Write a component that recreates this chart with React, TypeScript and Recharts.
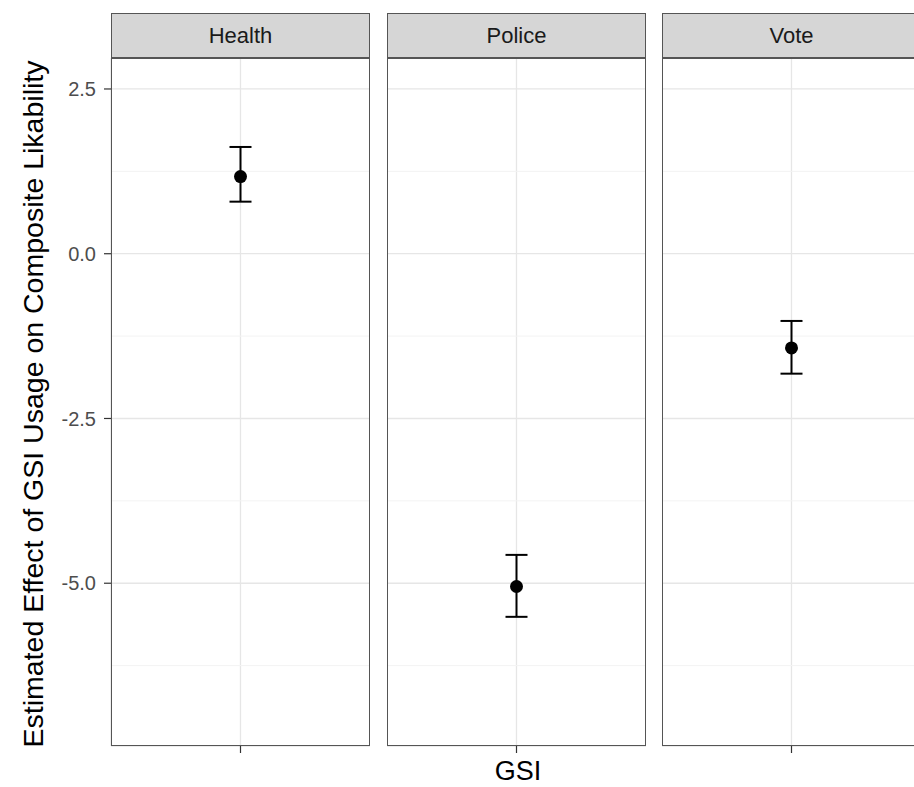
import React from 'react';
import {
  ScatterChart,
  Scatter,
  XAxis,
  YAxis,
  CartesianGrid,
  ErrorBar,
  ReferenceLine
} from 'recharts';

const panels = ['Health', 'Police', 'Vote'];
const estimates = [1.17, -5.05, -1.43];
const lowerBounds = [0.79, -5.51, -1.82];
const upperBounds = [1.62, -4.57, -1.02];

const yTicks = [2.5, 0, -2.5, -5];
const yMinorLines = [1.25, -1.25, -3.75, -6.25];
const yDomain: [number, number] = [-7.47, 2.97];

const FONT = '"Liberation Sans", Arial, Helvetica, sans-serif';
const PANEL_W = 259;
const PLOT_TOP = 58;
const PLOT_H = 688;
const AXIS_W = 111;
const panelLefts = [111, 387, 662];

const Dot = (props: any) => <circle cx={props.cx} cy={props.cy} r={6.5} fill="#000" />;

interface PanelProps {
  index: number;
}

const Panel: React.FC<PanelProps> = ({ index }) => {
  const first = index === 0;
  const data = [
    {
      x: 1,
      y: estimates[index],
      err: [estimates[index] - lowerBounds[index], upperBounds[index] - estimates[index]]
    }
  ];
  const left = first ? 0 : panelLefts[index];
  const width = first ? AXIS_W + PANEL_W : PANEL_W;

  return (
    <div style={{ position: 'absolute', left, top: PLOT_TOP }}>
      <ScatterChart width={width} height={PLOT_H + 10} margin={{ top: 0, right: 0, bottom: 0, left: 0 }}>
        <XAxis
          type="number"
          dataKey="x"
          domain={[0, 2]}
          ticks={[1]}
          height={10}
          axisLine={false}
          tickSize={7}
          tickLine={{ stroke: '#333', strokeWidth: 1.2 }}
          tickFormatter={() => ''}
        />
        <YAxis
          type="number"
          dataKey="y"
          domain={yDomain}
          ticks={yTicks}
          hide={!first}
          width={AXIS_W}
          axisLine={false}
          tickSize={7}
          tickMargin={8}
          tickLine={{ stroke: '#333', strokeWidth: 1.2 }}
          tick={{ fill: '#4d4d4d', fontSize: 20, fontFamily: FONT }}
          tickFormatter={(v: number) => v.toFixed(1)}
        />
        {yMinorLines.map((v) => (
          <ReferenceLine key={v} y={v} stroke="#f3f3f3" strokeWidth={1} />
        ))}
        <CartesianGrid stroke="#e6e6e6" strokeWidth={1.3} />
        <Scatter data={data} shape={Dot} isAnimationActive={false}>
          <ErrorBar dataKey="err" direction="y" width={11} stroke="#000" strokeWidth={2} isAnimationActive={false} />
        </Scatter>
      </ScatterChart>
    </div>
  );
};

const App: React.FC = () => {
  return (
    <div
      style={{
        position: 'absolute',
        left: 0,
        top: 0,
        width: 914,
        height: 787,
        overflow: 'hidden',
        background: '#fff',
        fontFamily: FONT
      }}
    >
      {panels.map((name, i) => (
        <React.Fragment key={name}>
          <Panel index={i} />
          <div
            style={{
              position: 'absolute',
              left: panelLefts[i],
              top: 13,
              width: PANEL_W,
              height: 46,
              boxSizing: 'border-box',
              background: '#d6d6d6',
              border: '1.5px solid #555',
              display: 'flex',
              alignItems: 'center',
              justifyContent: 'center',
              fontSize: 22,
              color: '#1a1a1a'
            }}
          >
            {name}
          </div>
          <div
            style={{
              position: 'absolute',
              left: panelLefts[i],
              top: PLOT_TOP - 1,
              width: PANEL_W,
              height: PLOT_H + 1,
              boxSizing: 'border-box',
              border: '1.5px solid #555',
              pointerEvents: 'none'
            }}
          />
        </React.Fragment>
      ))}
      <div
        style={{
          position: 'absolute',
          left: 33 - 400,
          top: 404 - 18,
          width: 800,
          height: 36,
          lineHeight: '36px',
          textAlign: 'center',
          transform: 'rotate(-90deg)',
          fontSize: 28.5,
          color: '#000'
        }}
      >
        Estimated Effect of GSI Usage on Composite Likability
      </div>
      <div
        style={{
          position: 'absolute',
          left: 518 - 60,
          top: 756,
          width: 120,
          textAlign: 'center',
          fontSize: 27,
          color: '#000'
        }}
      >
        GSI
      </div>
    </div>
  );
};

export default App;
